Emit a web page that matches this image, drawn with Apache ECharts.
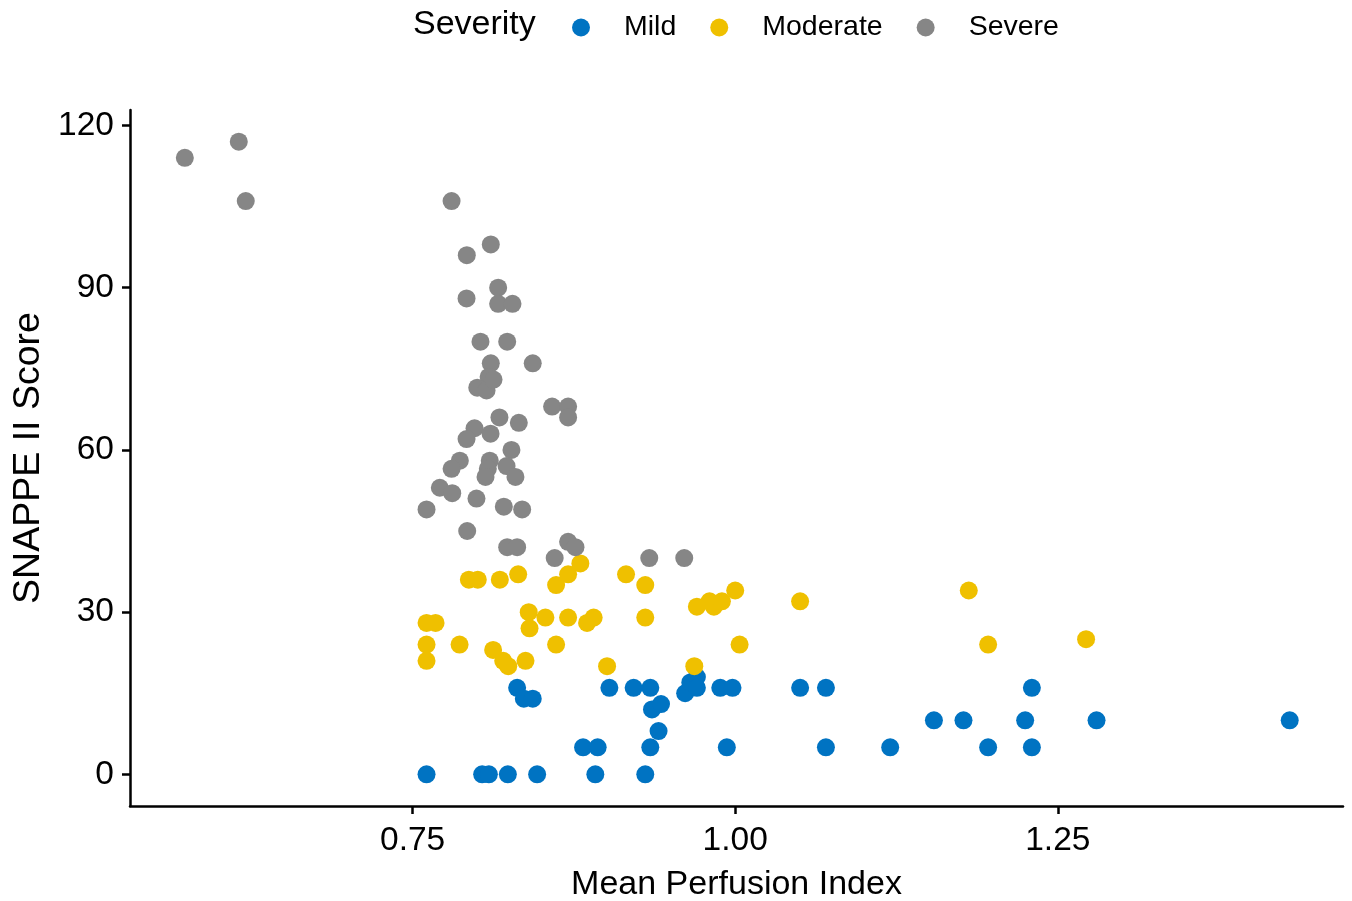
<!DOCTYPE html>
<html><head><meta charset="utf-8">
<script src="https://cdn.jsdelivr.net/npm/echarts@6/dist/echarts.min.js"></script>
<style>html,body{margin:0;padding:0;background:#fff}#c{width:1352px;height:901px}</style>
</head><body><div id="c"></div>
<script>
const severityLevels = ['Mild', 'Moderate', 'Severe'];
const mild = [[0.831,16],[0.8362,14],[0.8431,14],[0.9025,16],[0.9213,16],[0.9342,16],[0.9612,15],[0.9652,17],[0.9703,18],[0.9703,16],[0.9884,16],[0.9979,16],[0.9355,12],[0.9425,13],[0.9406,8],[0.9342,5],[0.9935,5],[0.9303,0],[0.8821,5],[0.8934,5],[0.7608,0],[0.8039,0],[0.8091,0],[0.8238,0],[0.8465,0],[0.8916,0],[1.0503,16],[1.0703,16],[1.2299,16],[1.154,10],[1.1769,10],[1.2247,10],[1.28,10],[1.4297,10],[1.0703,5],[1.1201,5],[1.196,5],[1.2299,5]];
const moderate = [[0.7936,36],[0.8005,36],[0.8176,36],[0.8318,37],[0.8612,35],[0.8705,37],[0.88,39],[0.9154,37],[0.9303,35],[0.84,30],[0.8529,29],[0.8406,27],[0.8705,29],[0.8852,28],[0.8903,29],[0.9303,29],[0.7608,28],[0.7678,28],[0.7608,24],[0.7864,24],[0.8612,24],[0.7608,21],[0.8124,23],[0.8202,21],[0.8241,20],[0.8375,21],[0.9007,20],[0.9703,31],[0.9801,32],[0.9835,31],[0.9897,32],[1.0,34],[1.0034,24],[1.0503,32],[0.9683,20],[1.181,34],[1.196,24],[1.2719,25]];
const severe = [[0.5735,114],[0.6153,117],[0.6207,106],[0.7802,106],[0.8106,98],[0.792,96],[0.8163,90],[0.7918,88],[0.8163,87],[0.8274,87],[0.8026,80],[0.8233,80],[0.8106,76],[0.8431,76],[0.8089,73.5],[0.8001,71.5],[0.8073,71],[0.8127,73],[0.8581,68],[0.8705,68],[0.8705,66],[0.8173,66],[0.8323,65],[0.798,64],[0.8104,63],[0.7918,62],[0.8266,60],[0.7866,58],[0.8098,58],[0.7802,56.5],[0.8083,56.5],[0.8065,55],[0.8228,57],[0.8297,55],[0.7711,53],[0.7807,52],[0.7995,51],[0.7608,49],[0.8207,49.5],[0.8349,49],[0.7923,45],[0.8233,42],[0.831,42],[0.8705,43],[0.8762,42],[0.8601,40],[0.9334,40],[0.9605,40]];
const xTicks = [0.75, 1.00, 1.25];
const yTicks = [0, 30, 60, 90, 120];
const colors = ['#0073C2', '#EFC000', '#868686'];

const chart = echarts.init(document.getElementById('c'), null, {renderer: 'canvas'});
const font = 'Liberation Sans, Arial, Helvetica, sans-serif';
const axisLine = {show: true, onZero: false, lineStyle: {color: '#000', width: 2.5}};
const axisTick = {show: true, length: 8, lineStyle: {color: '#000', width: 2.5}};
chart.setOption({
  animation: false,
  backgroundColor: '#fff',
  color: colors,
  graphic: [{type: 'text', left: 413, top: 8, style: {text: 'Severity', font: '34px ' + font, fill: '#000'}}],
  legend: {
    left: 567, top: 8, icon: 'circle', itemWidth: 18, itemHeight: 18, itemGap: 34,
    textStyle: {fontFamily: font, fontSize: 28.5, color: '#000', padding: [0, 0, 0, 29]},
    data: severityLevels
  },
  grid: {left: 130, right: 9, top: 110, bottom: 95, containLabel: false, outerBoundsMode: 'none'},
  xAxis: {
    type: 'value', min: 0.531, max: 1.471,
    name: 'Mean Perfusion Index', nameLocation: 'middle', nameGap: 62,
    nameTextStyle: {fontFamily: font, fontSize: 34, color: '#000'},
    axisLine: axisLine,
    axisTick: Object.assign({customValues: xTicks}, axisTick),
    axisLabel: {customValues: xTicks, margin: 18, fontFamily: font, fontSize: 33.5, color: '#000', formatter: v => v.toFixed(2)},
    splitLine: {show: false}
  },
  yAxis: {
    type: 'value', min: -5.85, max: 122.85,
    name: 'SNAPPE II Score', nameLocation: 'middle', nameGap: 82,
    nameTextStyle: {fontFamily: font, fontSize: 37.5, color: '#000'},
    axisLine: axisLine,
    axisTick: Object.assign({customValues: yTicks}, axisTick),
    axisLabel: {customValues: yTicks, margin: 16, fontFamily: font, fontSize: 33.5, color: '#000'},
    splitLine: {show: false}
  },
  series: [
    {name: 'Mild', type: 'scatter', data: mild, symbolSize: 18, itemStyle: {color: colors[0], opacity: 1}},
    {name: 'Moderate', type: 'scatter', data: moderate, symbolSize: 18, itemStyle: {color: colors[1], opacity: 1}},
    {name: 'Severe', type: 'scatter', data: severe, symbolSize: 18, itemStyle: {color: colors[2], opacity: 1}}
  ]
});
</script>
</body></html>
